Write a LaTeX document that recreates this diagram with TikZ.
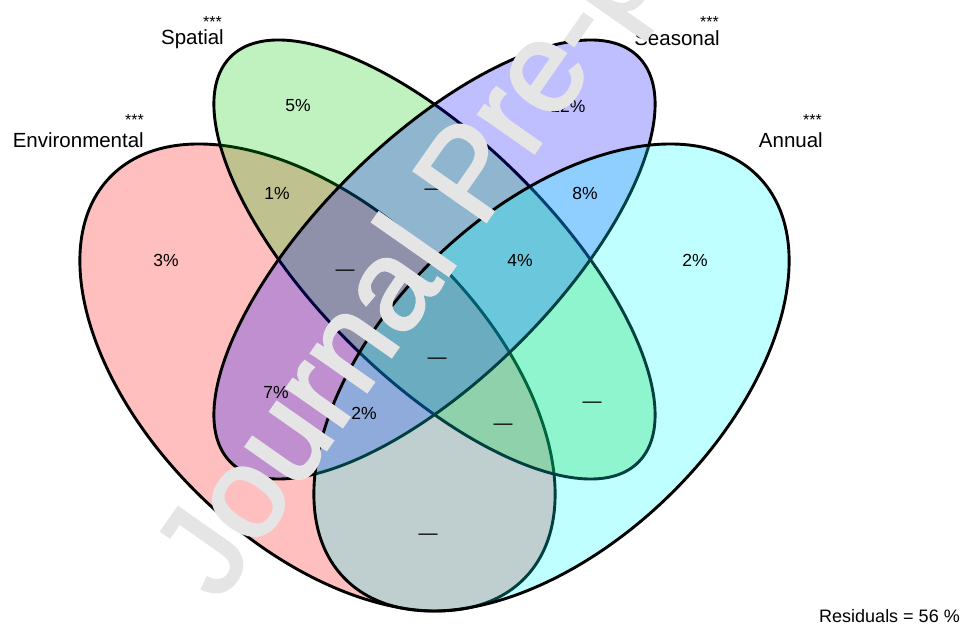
\documentclass[tikz,border=0pt]{standalone}
\usepackage{fontspec}
\setmainfont{Liberation Sans}
\newfontfamily\wmfont{Liberation Sans}[FakeBold=2.2]
\definecolor{vred}{RGB}{255,0,0}
\definecolor{vgreen}{RGB}{0,205,0}
\definecolor{vblue}{RGB}{0,0,255}
\definecolor{vcyan}{RGB}{0,255,255}
\definecolor{wmgray}{RGB}{229,229,229}
\tikzset{
  setshape/.style={line width=2.9pt, draw=black, fill opacity=0.25, draw opacity=1},
  pct/.style={font=\fontsize{17.5}{20}\selectfont, inner sep=0pt},
  nil/.style={font=\fontsize{19}{20}\selectfont, inner sep=0pt, yshift=-2.2pt},
  lbl/.style={font=\fontsize{20.5}{24}\selectfont, anchor=base east, inner sep=0pt},
  stars/.style={font=\fontsize{16}{18}\selectfont, anchor=base east, inner sep=0pt},
  resid/.style={font=\fontsize{18}{20}\selectfont, anchor=base east, inner sep=0pt},
  watermark/.style={font=\wmfont\fontsize{128}{128}\selectfont, text=wmgray, anchor=base west, inner sep=0pt, rotate=55}
}
\begin{document}
\begin{tikzpicture}[x=1pt,y=1pt]
\clip (0,0) rectangle (962,-631);
\fill[white] (0,0) rectangle (962,-631);
% sets: Environmental, Spatial, Seasonal, Annual
\filldraw[setshape, fill=vred, rotate around={-44:(317.5,-377.5)}]
  (317.5,-377.5) ellipse [x radius=288.4pt, y radius=166.7pt];
\filldraw[setshape, fill=vgreen, rotate around={-44.8:(434.5,-259.5)}]
  (434.5,-259.5) ellipse [x radius=287.5pt, y radius=119pt];
\filldraw[setshape, fill=vblue, rotate around={44.8:(434.5,-259.5)}]
  (434.5,-259.5) ellipse [x radius=287.5pt, y radius=119pt];
\filldraw[setshape, fill=vcyan, rotate around={44:(551.5,-377.5)}]
  (551.5,-377.5) ellipse [x radius=288.4pt, y radius=166.7pt];
% set labels
\node[lbl] (env) at (144,-148) {Environmental};
\node[stars] (envs) at (144,-126) {***};
\node[lbl] (spa) at (224,-45) {Spatial};
\node[stars] (spas) at (222,-28) {***};
\node[lbl] (sea) at (720,-46) {Seasonal};
\node[stars] (seas) at (719,-28) {***};
\node[lbl] (ann) at (823,-148) {Annual};
\node[stars] (anns) at (822,-126) {***};
% fractions
\node[pct] (p5) at (298,-106) {5\%};
\node[pct] (p1) at (277,-193) {1\%};
\node[pct] (p3) at (166,-260) {3\%};
\node[pct] (p12) at (568,-106) {12\%};
\node[pct] (p8) at (585,-193) {8\%};
\node[pct] (p4) at (520,-260) {4\%};
\node[pct] (p2a) at (695,-260) {2\%};
\node[pct] (p7) at (276,-392) {7\%};
\node[pct] (p2b) at (364,-413) {2\%};
\node[nil] (n1) at (345,-271) {—};
\node[nil] (n2) at (434,-190) {—};
\node[nil] (n3) at (437,-359) {—};
\node[nil] (n4) at (503,-425) {—};
\node[nil] (n5) at (592,-403) {—};
\node[nil] (n6) at (428,-535) {—};
\node[resid] (res) at (960,-622.5) {Residuals = 56 \%};
% watermark
\node[watermark] (wm) at (219,-603) {Journal Pre-proof};
\end{tikzpicture}
\end{document}
